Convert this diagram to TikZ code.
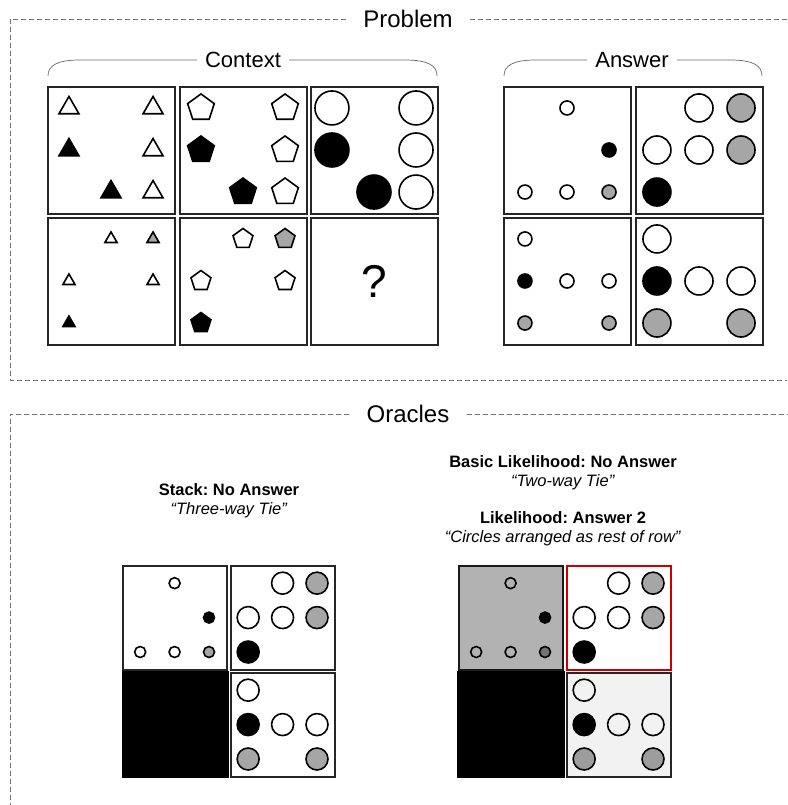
\documentclass[tikz,border=0pt]{standalone}
\usepackage{fontspec}
\setmainfont{Liberation Sans}
\frenchspacing
\colorlet{midgray}{black!35}

% shapes inside a puzzle cell: x, y, radius, fill
\newcommand\cellshapetri[4]{\draw[item, fill=#4] (#1,#2) +(90:#3pt) -- +(210:#3pt) -- +(330:#3pt) -- cycle;}
\newcommand\cellshapepent[4]{\draw[item, fill=#4] (#1,#2) +(90:#3pt) -- +(162:#3pt) -- +(234:#3pt) -- +(306:#3pt) -- +(18:#3pt) -- cycle;}
\newcommand\cellshapedisc[4]{\draw[item, fill=#4] (#1,#2) circle[radius=#3pt];}

% one panel: left, top, size, items as col/row/kind/radius/fill
\newcommand\puzzlepanel[4]{%
  \begin{scope}[shift={(#1,#2)}]
    \draw[panel] (0,0) rectangle (#3,#3);
    \foreach \c/\r/\k/\rad/\f in {#4} {
      \pgfmathsetmacro\gx{(0.165+0.331*(\c-1))*#3}
      \pgfmathsetmacro\gy{(0.165+0.331*(\r-1))*#3}
      \csname cellshape\k\endcsname{\gx}{\gy}{\rad}{\f}
    }
  \end{scope}}

\begin{document}
\begin{tikzpicture}[
    x=1pt, y=-1pt,
    panel/.style={draw=black!85, line width=1.6pt, fill=white},
    item/.style={draw=black, line width=1.6pt},
    group/.style={draw=black!55, line width=0.7pt, dash pattern=on 5pt off 3pt},
    brace/.style={draw=black!60, line width=0.7pt},
    title/.style={font=\fontsize{24}{28}\selectfont, inner xsep=17pt},
    subtitle/.style={font=\fontsize{22}{26}\selectfont, inner xsep=8pt},
    verdict/.style={font=\fontsize{16.5}{19}\selectfont, align=center}
  ]
  \useasboundingbox (0,0) rectangle (787,805);

  % problem frame
  \node[title] (prob) at (408,19) {Problem};
  \draw[group] (prob.west) -- (10,19) -- (10,380) -- (787,380);
  \draw[group] (prob.east) -- (787,19);

  \node[subtitle] (ctx) at (243,60) {Context};
  \draw[brace] (ctx.west) -- (80,60) .. controls (56,60) and (48,66) .. (48,76);
  \draw[brace] (ctx.east) -- (405,60) .. controls (429,60) and (437,66) .. (437,76);

  \node[subtitle] (ans) at (632,60) {Answer};
  \draw[brace] (ans.west) -- (536,60) .. controls (512,60) and (504,66) .. (504,76);
  \draw[brace] (ans.east) -- (730,60) .. controls (754,60) and (762,66) .. (762,76);

  % context rows
  \puzzlepanel{48}{87}{127}{1/1/tri/11.5/white, 3/1/tri/11.5/white, 1/2/tri/11.5/black,
    3/2/tri/11.5/white, 2/3/tri/11.5/black, 3/3/tri/11.5/white}
  \puzzlepanel{180}{87}{127}{1/1/pent/14/white, 3/1/pent/14/white, 1/2/pent/14/black,
    3/2/pent/14/white, 2/3/pent/14/black, 3/3/pent/14/white}
  \puzzlepanel{311}{87}{127}{1/1/disc/17/white, 3/1/disc/17/white, 1/2/disc/17/black,
    3/2/disc/17/white, 2/3/disc/17/black, 3/3/disc/17/white}
  \puzzlepanel{48}{218}{127}{2/1/tri/7/white, 3/1/tri/7/midgray, 1/2/tri/7/white,
    3/2/tri/7/white, 1/3/tri/7/black}
  \puzzlepanel{180}{218}{127}{2/1/pent/10.5/white, 3/1/pent/10.5/midgray, 1/2/pent/10.5/white,
    3/2/pent/10.5/white, 1/3/pent/10.5/black}
  \draw[panel] (311,218) rectangle ++(127,127);
  \node[font=\fontsize{46}{50}\selectfont] (q) at (374.5,281.5) {?};

  % answer choices
  \puzzlepanel{504}{87}{127}{2/1/disc/7/white, 3/2/disc/7/black, 1/3/disc/7/white,
    2/3/disc/7/white, 3/3/disc/7/midgray}
  \puzzlepanel{636}{87}{127}{2/1/disc/14/white, 3/1/disc/14/midgray, 1/2/disc/14/white,
    2/2/disc/14/white, 3/2/disc/14/midgray, 1/3/disc/14/black}
  \puzzlepanel{504}{218}{127}{1/1/disc/7/white, 1/2/disc/7/black, 2/2/disc/7/white,
    3/2/disc/7/white, 1/3/disc/7/midgray, 3/3/disc/7/midgray}
  \puzzlepanel{636}{218}{127}{1/1/disc/14/white, 1/2/disc/14/black, 2/2/disc/14/white,
    3/2/disc/14/white, 1/3/disc/14/midgray, 3/3/disc/14/midgray}

  % oracles frame
  \node[title] (orc) at (408,414) {Oracles};
  \draw[group] (orc.west) -- (10,414) -- (10,805);
  \draw[group] (orc.east) -- (787,414);

  \node[verdict] (stack) at (229,501) {\textbf{Stack: No Answer}\\\textit{“Three-way Tie”}};
  \node[verdict] (basic) at (563,472.5) {\textbf{Basic Likelihood: No Answer}\\\textit{“Two-way Tie”}};
  \node[verdict] (lik) at (563,529) {\textbf{Likelihood: Answer 2}\\\textit{“Circles arranged as rest of row”}};

  % stack oracle
  \puzzlepanel{123}{566}{104}{2/1/disc/5.5/white, 3/2/disc/5.5/black, 1/3/disc/5.5/white,
    2/3/disc/5.5/white, 3/3/disc/5.5/midgray}
  \puzzlepanel{231}{566}{104}{2/1/disc/11/white, 3/1/disc/11/midgray, 1/2/disc/11/white,
    2/2/disc/11/white, 3/2/disc/11/midgray, 1/3/disc/11/black}
  \fill[black] (122,671) rectangle (229,778);
  \puzzlepanel{231}{673}{104}{1/1/disc/11/white, 1/2/disc/11/black, 2/2/disc/11/white,
    3/2/disc/11/white, 1/3/disc/11/midgray, 3/3/disc/11/midgray}

  % likelihood oracle
  \puzzlepanel{459}{566}{104}{2/1/disc/5.5/white, 3/2/disc/5.5/black, 1/3/disc/5.5/white,
    2/3/disc/5.5/white, 3/3/disc/5.5/midgray}
  \fill[black, opacity=0.3] (458,565) rectangle (564,671);
  \puzzlepanel{567}{566}{104}{2/1/disc/11/white, 3/1/disc/11/midgray, 1/2/disc/11/white,
    2/2/disc/11/white, 3/2/disc/11/midgray, 1/3/disc/11/black}
  \draw[red!80!black, line width=2.2pt] (567,566) rectangle ++(104,104);
  \fill[black] (457,671) rectangle (565,778);
  \puzzlepanel{567}{673}{104}{1/1/disc/11/white, 1/2/disc/11/black, 2/2/disc/11/white,
    3/2/disc/11/white, 1/3/disc/11/midgray, 3/3/disc/11/midgray}
  \fill[black, opacity=0.05] (568,674) rectangle ++(102,102);
\end{tikzpicture}
\end{document}
